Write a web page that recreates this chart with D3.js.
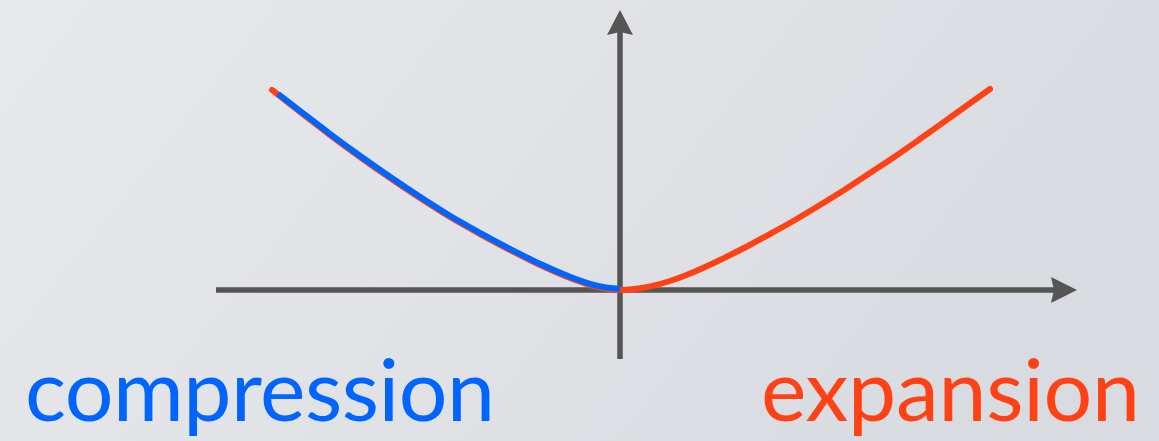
<!DOCTYPE html>
<html>
<head>
<meta charset="utf-8">
<script src="https://cdn.jsdelivr.net/npm/d3@7"></script>
<style>
  html, body { margin: 0; padding: 0; overflow: hidden; }
  svg { display: block; }
</style>
</head>
<body>
<svg id="chart" width="1159" height="441"></svg>
<script>
// ---- data ----
const labels = ["compression", "expansion"];
const compressionX = [-3.42, -3.2, -2.9, -2.6, -2.3, -2.0, -1.7, -1.4, -1.1, -0.8, -0.5, -0.3, -0.15, 0];
const compressionY = [1.95, 1.78, 1.55, 1.33, 1.12, 0.92, 0.73, 0.56, 0.40, 0.25, 0.12, 0.05, 0.015, 0];
const expansionX = [-3.48, -3.2, -2.9, -2.6, -2.3, -2.0, -1.7, -1.4, -1.1, -0.8, -0.5, -0.3, -0.15, 0,
                    0.25, 0.5, 0.75, 1.0, 1.25, 1.5, 1.75, 2.0, 2.25, 2.5, 2.75, 3.0, 3.35, 3.7];
const expansionY = [2.00, 1.78, 1.55, 1.33, 1.12, 0.92, 0.73, 0.56, 0.40, 0.25, 0.12, 0.05, 0.015, 0,
                    0.025, 0.09, 0.185, 0.30, 0.425, 0.56, 0.70, 0.85, 1.005, 1.17, 1.335, 1.51, 1.76, 2.01];
const xAxisDomain = [-4.04, 4.57];
const yAxisDomain = [-0.69, 2.80];

// ---- drawing ----
const W = 1159, H = 441;
const svg = d3.select("#chart");

const defs = svg.append("defs");
const grad = defs.append("linearGradient").attr("id", "bg")
  .attr("x1", "0%").attr("y1", "0%").attr("x2", "100%").attr("y2", "30%");
grad.append("stop").attr("offset", "0%").attr("stop-color", "#e8e9ec");
grad.append("stop").attr("offset", "55%").attr("stop-color", "#e0e2e6");
grad.append("stop").attr("offset", "100%").attr("stop-color", "#d8dbe0");
svg.append("rect").attr("width", W).attr("height", H).attr("fill", "url(#bg)");

const x = d3.scaleLinear().domain(xAxisDomain).range([216, 1077]);
const y = d3.scaleLinear().domain(yAxisDomain).range([359, 10]);

const axisColor = "#555555";
const g = svg.append("g");

// horizontal axis
g.append("line")
  .attr("x1", x(xAxisDomain[0])).attr("x2", x(xAxisDomain[1]) - 20)
  .attr("y1", y(0)).attr("y2", y(0))
  .attr("stroke", axisColor).attr("stroke-width", 5.5);
const hx = x(xAxisDomain[1]), hy = y(0);
g.append("path")
  .attr("d", `M${hx},${hy} L${hx - 26},${hy - 13} L${hx - 23},${hy} L${hx - 26},${hy + 13} Z`)
  .attr("fill", axisColor);

// vertical axis
g.append("line")
  .attr("x1", x(0)).attr("x2", x(0))
  .attr("y1", y(yAxisDomain[0])).attr("y2", y(yAxisDomain[1]) + 20)
  .attr("stroke", axisColor).attr("stroke-width", 5.5);
const vx = x(0), vy = y(yAxisDomain[1]);
g.append("path")
  .attr("d", `M${vx},${vy} L${vx - 13},${vy + 25} L${vx},${vy + 22} L${vx + 13},${vy + 25} Z`)
  .attr("fill", axisColor);

const line = d3.line().x(d => x(d[0])).y(d => y(d[1])).curve(d3.curveMonotoneX);

const expData = expansionX.map((v, i) => [v, expansionY[i]]);
const compData = compressionX.map((v, i) => [v, compressionY[i]]);

svg.append("path").datum(expData)
  .attr("d", line)
  .attr("fill", "none").attr("stroke", "#ff4215").attr("stroke-width", 6)
  .attr("stroke-linecap", "round");

svg.append("path").datum(compData)
  .attr("d", line)
  .attr("transform", "translate(0,-1.2)")
  .attr("fill", "none").attr("stroke", "#0064ff").attr("stroke-width", 6)
  .attr("stroke-linecap", "butt");

// labels
svg.append("text")
  .attr("x", 25).attr("y", 421)
  .attr("font-family", "Lato, 'Open Sans', sans-serif")
  .attr("font-size", 86)
  .attr("fill", "#0064ff")
  .attr("textLength", 470).attr("lengthAdjust", "spacing")
  .text(labels[0]);

svg.append("text")
  .attr("x", 761).attr("y", 421)
  .attr("font-family", "Lato, 'Open Sans', sans-serif")
  .attr("font-size", 86)
  .attr("fill", "#ff4215")
  .attr("textLength", 379).attr("lengthAdjust", "spacing")
  .text(labels[1]);
</script>
</body>
</html>
